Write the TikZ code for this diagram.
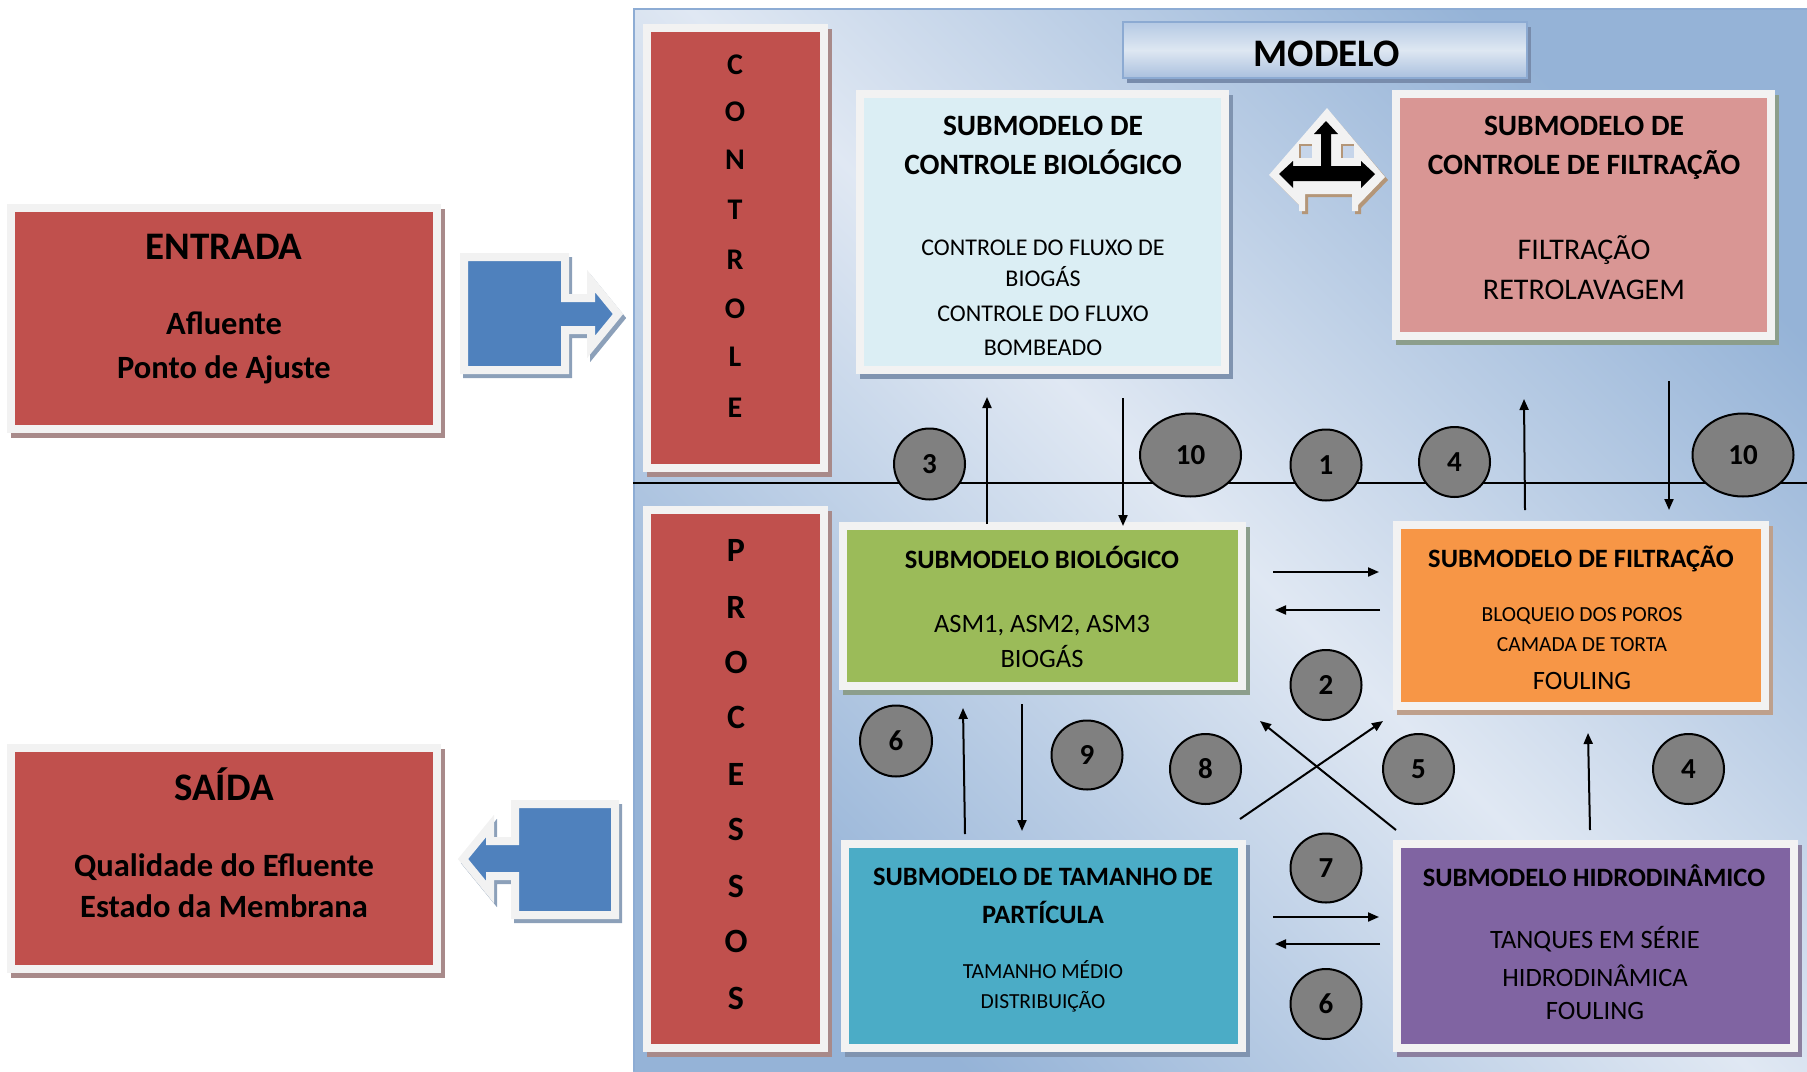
\documentclass[tikz,border=0pt]{standalone}
\usepackage{fontspec}
\setmainfont{Carlito}
\usetikzlibrary{arrows.meta,shapes.geometric}
\definecolor{frameC}{RGB}{242,242,242}
\definecolor{redC}{RGB}{192,80,77}
\definecolor{shRed}{RGB}{168,138,138}
\definecolor{ctrlBioC}{RGB}{219,238,244}
\definecolor{shBlueGray}{RGB}{128,148,176}
\definecolor{ctrlFiltC}{RGB}{217,150,148}
\definecolor{shGreenGray}{RGB}{140,158,140}
\definecolor{bioC}{RGB}{155,187,89}
\definecolor{filtC}{RGB}{247,150,70}
\definecolor{shBrown}{RGB}{190,160,140}
\definecolor{tamC}{RGB}{75,172,198}
\definecolor{hidC}{RGB}{128,100,162}
\definecolor{shPurple}{RGB}{140,128,160}
\definecolor{blueC}{RGB}{79,129,189}
\definecolor{shArrow}{RGB}{140,160,185}
\definecolor{circC}{RGB}{128,128,128}
\definecolor{panDark}{RGB}{149,179,215}
\definecolor{panLight}{RGB}{224,232,243}
\definecolor{panEdge}{RGB}{141,172,212}
\definecolor{winC}{RGB}{198,213,234}
\definecolor{qshC}{RGB}{180,150,120}
\definecolor{modTop}{RGB}{180,201,228}
\definecolor{modMid}{RGB}{222,231,242}
\definecolor{modBot}{RGB}{170,192,222}
\definecolor{modEdge}{RGB}{140,170,210}
\definecolor{modSh}{RGB}{120,140,172}
\begin{document}
\begin{tikzpicture}[x=1pt,y=-1pt,
  frame/.style={rectangle,draw=frameC,line width=8pt,inner sep=0pt,outer sep=0pt},
  txt/.style={inner sep=0pt,anchor=mid,text=black},
  hBig/.style={txt,yshift=-9pt,font=\bfseries\fontsize{39}{42}\selectfont},
  hSub/.style={txt,yshift=-7.5pt,font=\bfseries\fontsize{32.5}{35}\selectfont},
  hC/.style={txt,yshift=-7pt,font=\bfseries\fontsize{30}{32}\selectfont},
  hP/.style={txt,yshift=-8.5pt,font=\bfseries\fontsize{34}{36}\selectfont},
  tTop/.style={txt,yshift=-7pt,font=\bfseries\fontsize{29.5}{31}\selectfont},
  bTop/.style={txt,yshift=-5.5pt,font=\fontsize{24}{26}\selectfont},
  bTopL/.style={txt,yshift=-7pt,font=\fontsize{30}{32}\selectfont},
  tLow/.style={txt,yshift=-6.5pt,font=\bfseries\fontsize{26.5}{28}\selectfont},
  bLow/.style={txt,yshift=-6pt,font=\fontsize{26.5}{28}\selectfont},
  bSm/.style={txt,yshift=-5pt,font=\fontsize{21.5}{23}\selectfont},
  circ/.style={ellipse,draw=black,line width=2pt,fill=circC,inner sep=0pt,
    font=\bfseries\fontsize{29}{31}\selectfont},
  arr/.style={line width=2pt,-{Triangle[length=11pt,width=9pt]}}
]
\useasboundingbox (0,0) rectangle (1807,1071);

% ---------- main panel ----------
\shade[top color=panDark,bottom color=panDark,middle color=panLight,shading angle=-45]
  (633,8) rectangle (1807,1071);
\draw[panEdge,line width=2.5pt] (634,1071) -- (634,9) -- (1807,9);

% separator line
\coordinate (hl1) at (633,483);
\coordinate (hl2) at (1807,483);
\draw[line width=2pt] (hl1) -- (hl2);

% ---------- ENTRADA / SAIDA ----------
\fill[shRed] (11,209) rectangle (445,438);
\node[frame,fill=redC,minimum width=426,minimum height=221] (entrada) at (224,318.5) {};
\node[hBig] (entradaT) at (224,248) {ENTRADA};
\node[hSub] (entrada1) at (224,325) {Afluente};
\node[hSub] (entrada2) at (224,369) {Ponto de Ajuste};

\fill[shRed] (11,749) rectangle (445,978);
\node[frame,fill=redC,minimum width=426,minimum height=221] (saida) at (224,858.5) {};
\node[hBig] (saidaT) at (224,789) {SAÍDA};
\node[hSub] (saida1) at (224,867) {Qualidade do Efluente};
\node[hSub] (saida2) at (224,908) {Estado da Membrana};

% block arrows
\filldraw[shArrow,line width=8pt,line join=miter]
  (467,261) -- (568,261) -- (568,302) -- (594,302) -- (594,285) -- (621,318) -- (594,351)
  -- (594,334) -- (568,334) -- (568,374) -- (467,374) -- cycle;
\filldraw[fill=blueC,draw=frameC,line width=8pt,line join=miter]
  (464,257) -- (565,257) -- (565,298) -- (591,298) -- (591,281) -- (618,314) -- (591,347)
  -- (591,330) -- (565,330) -- (565,370) -- (464,370) -- cycle;

\filldraw[shArrow,line width=8pt,line join=miter]
  (618,808) -- (518,808) -- (518,845) -- (493,845) -- (493,830) -- (466,863) -- (493,896)
  -- (493,880) -- (518,880) -- (518,919) -- (618,919) -- cycle;
\filldraw[fill=blueC,draw=frameC,line width=8pt,line join=miter]
  (615,804) -- (515,804) -- (515,841) -- (490,841) -- (490,826) -- (463,859) -- (490,892)
  -- (490,876) -- (515,876) -- (515,915) -- (615,915) -- cycle;

% ---------- CONTROLE / PROCESSOS ----------
\fill[shRed] (647,29) rectangle (832,477);
\node[frame,fill=redC,minimum width=177,minimum height=440] (controle) at (735.5,248) {};
\foreach \l/\yy [count=\i] in {C/65,O/112,N/160,T/210,R/260,O/309,L/357,E/408}
  \node[hC] (ctl\i) at (735,\yy) {\l};

\fill[shRed] (647,511) rectangle (832,1057);
\node[frame,fill=redC,minimum width=177,minimum height=538] (processos) at (735.5,779) {};
\foreach \l/\yy [count=\i] in {P/551,R/608,O/663,C/718,E/775,S/830,S/887,O/942,S/999}
  \node[hP] (prc\i) at (736,\yy) {\l};

% ---------- MODELO ----------
\fill[modSh] (1127,27) rectangle (1531,83);
\shade[top color=modTop,bottom color=modBot,middle color=modMid] (1123,22) rectangle (1527,78);
\node[rectangle,draw=modEdge,line width=2pt,minimum width=404,minimum height=56,inner sep=0pt] (modelo) at (1325,50) {};
\node[hBig] (modeloT) at (1327,55) {MODELO};

% ---------- control submodels ----------
\fill[shBlueGray] (860,95) rectangle (1233,379);
\node[frame,fill=ctrlBioC,minimum width=365,minimum height=276] (cbio) at (1042.5,232) {};
\node[tTop] (cbio1) at (1043,126) {SUBMODELO DE};
\node[tTop] (cbio2) at (1043,165) {CONTROLE BIOLÓGICO};
\node[bTop] (cbio3) at (1043,248) {CONTROLE DO FLUXO DE};
\node[bTop] (cbio4) at (1043,279) {BIOGÁS};
\node[bTop] (cbio5) at (1043,314) {CONTROLE DO FLUXO};
\node[bTop] (cbio6) at (1043,348) {BOMBEADO};

\fill[shGreenGray] (1396,95) rectangle (1779,345);
\node[frame,fill=ctrlFiltC,minimum width=375,minimum height=242] (cfil) at (1583.5,215) {};
\node[tTop] (cfil1) at (1584,126) {SUBMODELO DE};
\node[tTop] (cfil2) at (1584,165) {CONTROLE DE FILTRAÇÃO};
\node[bTopL] (cfil3) at (1584,250) {FILTRAÇÃO};
\node[bTopL] (cfil4) at (1584,290) {RETROLAVAGEM};

% ---------- process submodels ----------
\fill[shGreenGray] (843,527) rectangle (1250,695);
\node[frame,fill=bioC,minimum width=399,minimum height=160] (bio) at (1042.5,606) {};
\node[tLow] (bio1) at (1042,560) {SUBMODELO BIOLÓGICO};
\node[bLow] (bio2) at (1042,624) {ASM1, ASM2, ASM3};
\node[bLow] (bio3) at (1042,659) {BIOGÁS};

\fill[shBrown] (1397,526) rectangle (1773,715);
\node[frame,fill=filtC,minimum width=368,minimum height=181] (fil) at (1581,615.5) {};
\node[tLow] (fil1) at (1581,559) {SUBMODELO DE FILTRAÇÃO};
\node[bSm] (fil2) at (1582,614) {BLOQUEIO DOS POROS};
\node[bSm] (fil3) at (1582,644) {CAMADA DE TORTA};
\node[bLow] (fil4) at (1582,681) {FOULING};

\fill[shBlueGray] (845,845) rectangle (1250,1057);
\node[frame,fill=tamC,minimum width=397,minimum height=204] (tam) at (1043.5,946) {};
\node[tLow] (tam1) at (1043,877) {SUBMODELO DE TAMANHO DE};
\node[tLow] (tam2) at (1043,915) {PARTÍCULA};
\node[bSm] (tam3) at (1043,971) {TAMANHO MÉDIO};
\node[bSm] (tam4) at (1043,1001) {DISTRIBUIÇÃO};

\fill[shPurple] (1397,845) rectangle (1802,1057);
\node[frame,fill=hidC,minimum width=397,minimum height=204] (hid) at (1595.5,946) {};
\node[tLow] (hid1) at (1594,878) {SUBMODELO HIDRODINÂMICO};
\node[bLow] (hid2) at (1595,940) {TANQUES EM SÉRIE};
\node[bLow] (hid3) at (1595,978) {HIDRODINÂMICA};
\node[bLow] (hid4) at (1595,1011) {FOULING};

% ---------- connectors ----------
\coordinate (a1s) at (987,524);  \coordinate (a1e) at (987,397);
\coordinate (a2s) at (1123,398); \coordinate (a2e) at (1123,526);
\coordinate (a3s) at (1525,510); \coordinate (a3e) at (1524,399);
\coordinate (a4s) at (1669,381); \coordinate (a4e) at (1669,510);
\coordinate (a5s) at (1273,572); \coordinate (a5e) at (1379,572);
\coordinate (a6s) at (1380,610); \coordinate (a6e) at (1275,610);
\coordinate (a7s) at (1240,819); \coordinate (a7e) at (1383,721);
\coordinate (a8s) at (1396,830); \coordinate (a8e) at (1260,721);
\coordinate (a9s) at (1590,830); \coordinate (a9e) at (1588,733);
\coordinate (a10s) at (965,834); \coordinate (a10e) at (963,708);
\coordinate (a11s) at (1022,704); \coordinate (a11e) at (1022,831);
\coordinate (a12s) at (1273,917); \coordinate (a12e) at (1379,917);
\coordinate (a13s) at (1380,944); \coordinate (a13e) at (1275,944);
\foreach \k in {1,...,13} \draw[arr] (a\k s) -- (a\k e);

% ---------- numbered circles ----------
\node[circ,minimum width=71,minimum height=71] (c3) at (929.5,464) {3};
\node[circ,minimum width=101,minimum height=83] (c10a) at (1190.5,455) {10};
\node[circ,minimum width=71,minimum height=71] (c1) at (1326,465) {1};
\node[circ,minimum width=71,minimum height=70] (c4a) at (1454.5,462) {4};
\node[circ,minimum width=101,minimum height=83] (c10b) at (1743,455) {10};
\node[circ,minimum width=71,minimum height=70] (c2) at (1326,685) {2};
\node[circ,minimum width=72,minimum height=71] (c6a) at (896,741) {6};
\node[circ,minimum width=71,minimum height=69] (c9) at (1087,755) {9};
\node[circ,minimum width=71,minimum height=70] (c8) at (1205.5,769) {8};
\node[circ,minimum width=71,minimum height=70] (c5) at (1418.5,769) {5};
\node[circ,minimum width=71,minimum height=70] (c4b) at (1688.5,769) {4};
\node[circ,minimum width=71,minimum height=69] (c7) at (1326,868) {7};
\node[circ,minimum width=71,minimum height=70] (c6b) at (1326,1004) {6};

% ---------- left-right-up arrow ----------
\fill[qshC] (1330,112) -- (1388,180) -- (1361,208) -- (1361,214) -- (1355,214) -- (1355,197)
  -- (1308,197) -- (1308,214) -- (1302,214) -- (1302,208) -- (1272,178) -- cycle;
\fill[frameC] (1327,108) -- (1385,177) -- (1358,205) -- (1358,211) -- (1352,211) -- (1352,194)
  -- (1305,194) -- (1305,211) -- (1299,211) -- (1299,205) -- (1269,175) -- cycle;
\fill[winC] (1300,145) rectangle (1312,158);
\fill[winC] (1342,145) rectangle (1354,158);
\draw[qshC,line width=1.5pt] (1300,158) -- (1300,145) -- (1312,145);
\draw[qshC,line width=1.5pt] (1342,158) -- (1342,145) -- (1354,145);
\fill[black] (1326,121) -- (1338,134) -- (1331,134) -- (1331,166) -- (1361,166) -- (1361,161)
  -- (1375,174) -- (1361,188) -- (1361,181) -- (1293,181) -- (1293,188) -- (1279,174)
  -- (1293,161) -- (1293,166) -- (1321,166) -- (1321,134) -- (1314,134) -- cycle;
\end{tikzpicture}
\end{document}
